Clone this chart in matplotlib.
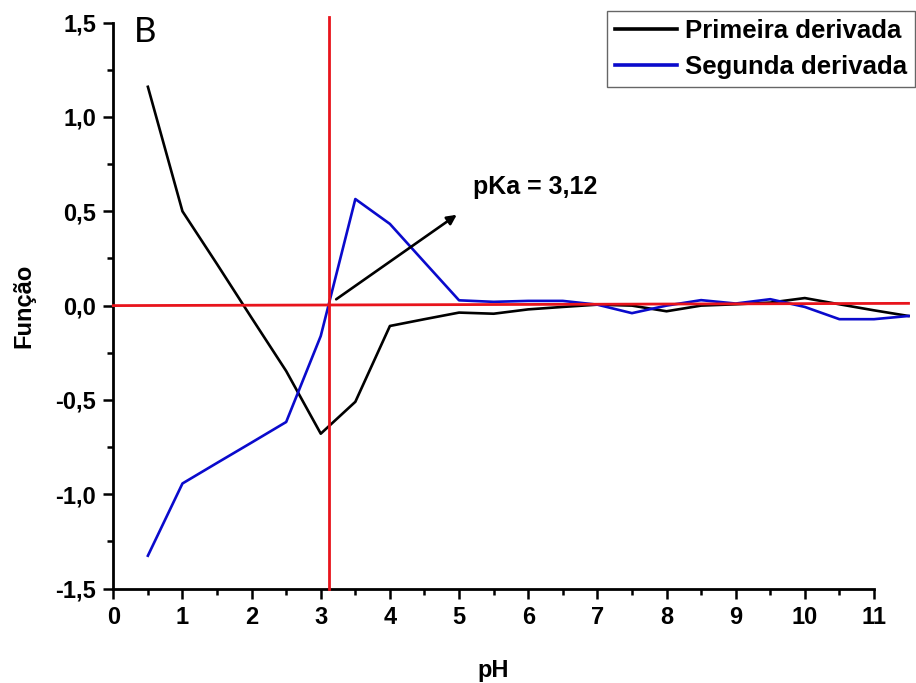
import matplotlib
matplotlib.use("Agg")
import matplotlib.pyplot as plt
from matplotlib.ticker import MultipleLocator, FuncFormatter

# curvas de derivada da titulação
ph = [0.5, 1.0, 1.5, 2.0, 2.5, 3.0, 3.5, 4.0, 4.5, 5.0, 5.5, 6.0,
      6.5, 7.0, 7.5, 8.0, 8.5, 9.0, 9.5, 10.0, 10.5, 11.0, 11.5]
primeira = [1.16, 0.50, 0.22, -0.065, -0.347, -0.679, -0.51, -0.108, -0.072, -0.037,
            -0.043, -0.02, -0.007, 0.005, 0.0, -0.03, 0.0, 0.007, 0.016, 0.04,
            0.007, -0.025, -0.055]
segunda = [-1.326, -0.943, -0.834, -0.726, -0.617, -0.161, 0.565, 0.433, 0.23, 0.028,
           0.02, 0.025, 0.025, 0.005, -0.04, 0.0, 0.029, 0.011, 0.034, -0.007,
           -0.072, -0.072, -0.055]
pka = 3.12
linha_zero_x = [0.0, 11.5]
linha_zero_y = [0.0, 0.012]
seta_ini = (3.19, 0.025)
seta_fim = (5.0, 0.49)

plt.rcParams['font.family'] = ['Liberation Sans', 'DejaVu Sans']
plt.rcParams['font.weight'] = 'bold'

fig = plt.figure(figsize=(9.16, 6.83), dpi=100)
ax = fig.add_axes([0.1237, 0.1383, 0.8304, 0.8285])

ax.plot(ph, primeira, color='black', lw=1.9, label='Primeira derivada', clip_on=False, zorder=3)
ax.plot(ph, segunda, color='#0a0acc', lw=1.9, label='Segunda derivada', clip_on=False, zorder=3)

# linhas de referência em zero e no pKa
ax.plot(linha_zero_x, linha_zero_y, color='#e8141c', lw=2.0, clip_on=False, zorder=4)
ax.plot([pka, pka], [-1.5, 1.53], color='#e8141c', lw=2.0, clip_on=False, zorder=4)

ax.annotate('', xy=seta_fim, xytext=seta_ini,
            arrowprops=dict(arrowstyle='-|>', color='black', lw=1.9, mutation_scale=14),
            zorder=5)
ax.text(5.2, 0.63, 'pKa = 3,12', fontsize=18, fontweight='bold', va='center', ha='left')

ax.text(0.3, 1.45, 'B', fontsize=25, fontweight='normal', family='Lato', va='center', ha='left')

ax.set_xlim(0, 11)
ax.set_ylim(-1.5, 1.5)
ax.xaxis.set_major_locator(MultipleLocator(1))
ax.xaxis.set_minor_locator(MultipleLocator(0.5))
ax.yaxis.set_major_locator(MultipleLocator(0.5))
ax.yaxis.set_minor_locator(MultipleLocator(0.25))
ax.yaxis.set_major_formatter(FuncFormatter(lambda v, p: f'{v:.1f}'.replace('.', ',')))

for lado in ['top', 'right']:
    ax.spines[lado].set_visible(False)
for lado in ['left', 'bottom']:
    ax.spines[lado].set_linewidth(2.0)

ax.tick_params(which='major', length=7.5, width=1.8, labelsize=17, pad=5)
ax.tick_params(which='minor', length=4, width=1.8)

ax.set_xlabel('pH', fontsize=17, fontweight='bold', labelpad=22)
ax.set_ylabel('Função', fontsize=17, fontweight='bold', labelpad=14)

leg = ax.legend(loc='upper right', bbox_to_anchor=(915 / 916, 1 - 11 / 683),
                bbox_transform=fig.transFigure, borderaxespad=0, fontsize=18.5,
                handlelength=2.4, fancybox=False, framealpha=1, edgecolor='#666666',
                labelspacing=0.45, borderpad=0.32, handletextpad=0.3)
leg.get_frame().set_linewidth(1.0)
for t in leg.get_texts():
    t.set_fontweight('bold')
for h in leg.get_lines():
    h.set_linewidth(2.6)

fig.savefig('out.png', dpi=100)
